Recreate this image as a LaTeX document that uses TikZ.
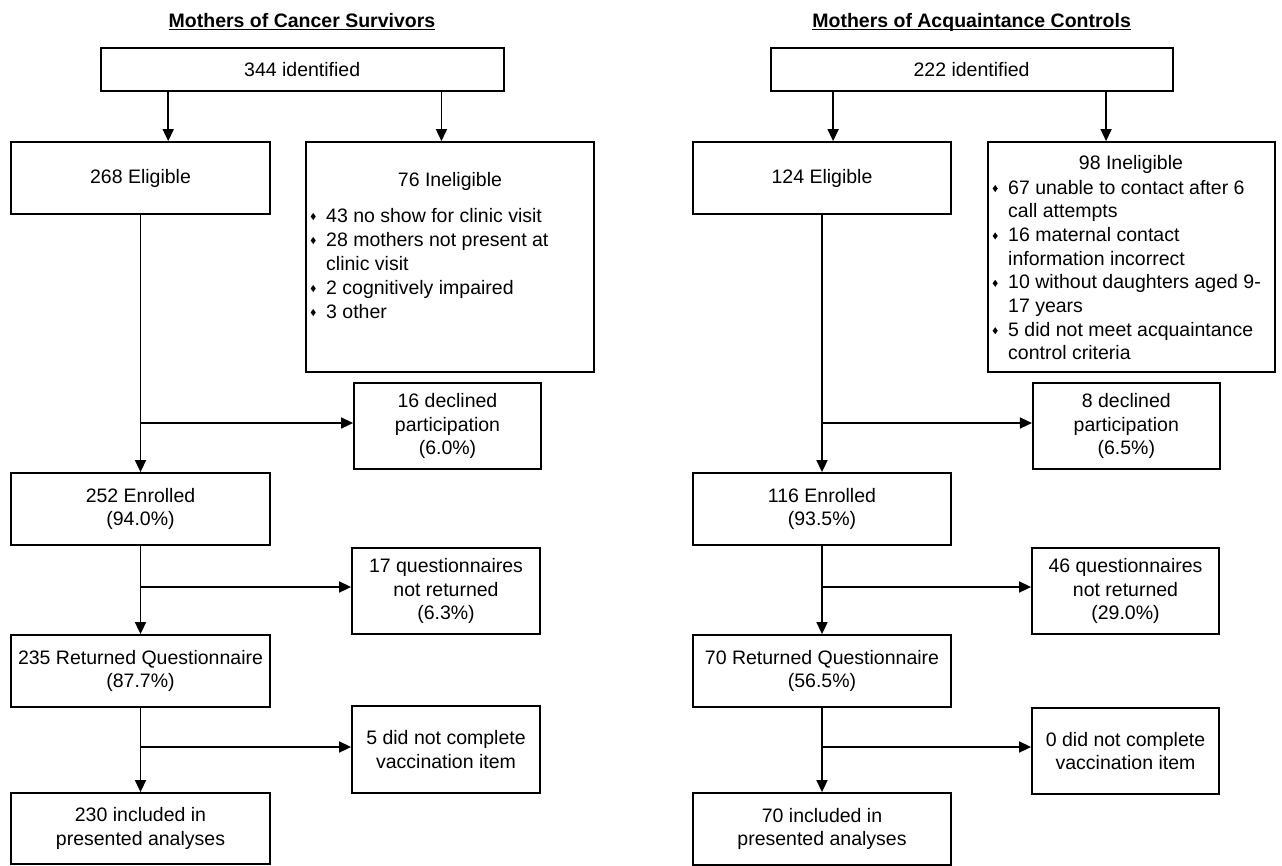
\documentclass[tikz,border=0pt]{standalone}
\usepackage{graphicx}
\usepackage{fontspec}
\setmainfont{Liberation Sans}
\usetikzlibrary{arrows.meta,calc}
\newcommand\fs{\fontsize{19.5}{23.5}\selectfont}
\newcommand\dm{\makebox[14pt]{\raisebox{2pt}{\scalebox{0.8}[1.1]{\rotatebox{45}{\rule{4.5pt}{4.5pt}}}}}}
\begin{document}
\begin{tikzpicture}[x=1pt,y=-1pt,
  box/.style={draw, line width=1.8pt, inner sep=0pt, align=center, font=\fs},
  wbox/.style={box, minimum width=259pt, minimum height=72pt},
  sbox/.style={box, minimum width=187pt, minimum height=86pt},
  ttl/.style={font=\fs\bfseries, inner sep=0pt, anchor=base},
  hdr/.style={font=\fs, inner sep=0pt, anchor=base},
  lst/.style={inner sep=0pt, anchor=base west},
  arr/.style={line width=1.6pt, -{Triangle[length=12pt,width=11pt]}},
  uline/.style={line width=1.4pt}]
\useasboundingbox (0,0) rectangle (1282,865);

% ---------------- Left panel ----------------
\node[ttl] (t1) at (302,27) {Mothers of Cancer Survivors};
\draw[uline] ([yshift=-2.5pt]t1.base west) -- ([yshift=-2.5pt]t1.base east);

\node[box, minimum width=403pt, minimum height=43pt] (id1) at (302.2,69.5) {344 identified};
\node[wbox] (el1) at (140.5,178) {268 Eligible};
\node[box, minimum width=288pt, minimum height=230pt] (in1) at (450,257) {};
\node[hdr] (in1h) at (450,186) {76 Ineligible};
\node[lst] (in1l) at (306,222) {\fontsize{19.5}{24}\selectfont
\begin{tabular}[t]{@{}l@{\hspace{6pt}}l@{}}
\dm & 43 no show for clinic visit\\
\dm & 28 mothers not present at\\
    & clinic visit\\
\dm & 2 cognitively impaired\\
\dm & 3 other
\end{tabular}};
\node[sbox] (de1) at (447.5,426) {16 declined\\participation\\(6.0\%)};
\node[wbox] (en1) at (140.5,509) {252 Enrolled\\(94.0\%)};
\node[sbox, minimum width=188pt] (qn1) at (446,591) {17 questionnaires\\not returned\\(6.3\%)};
\node[wbox] (rt1) at (140.5,671) {235 Returned Questionnaire\\(87.7\%)};
\node[sbox, minimum width=188pt, minimum height=87pt] (nc1) at (446,749.5) {5 did not complete\\vaccination item};
\node[wbox, minimum height=71pt] (ic1) at (140.5,828.5) {230 included in\\presented analyses};

\coordinate (a1) at ($(id1.south west)!0.169!(id1.south east)$);
\coordinate (b1) at ($(id1.south west)!0.844!(id1.south east)$);
\draw[arr] (a1) -- (a1 |- el1.north);
\draw[arr] (b1) -- (b1 |- in1.north);
\draw[arr] (el1.south) -- (en1.north);
\draw[arr] (en1.south) -- (rt1.north);
\draw[arr] (rt1.south) -- (ic1.north);
\coordinate (d1) at ([yshift=3pt]de1.west);
\coordinate (q1) at ([yshift=4pt]qn1.west);
\coordinate (n1) at ([yshift=2.5pt]nc1.west);
\draw[arr] (d1 -| el1.south) -- (d1);
\draw[arr] (q1 -| en1.south) -- (q1);
\draw[arr] (n1 -| rt1.south) -- (n1);

% ---------------- Right panel ----------------
\node[ttl] (t2) at (971.6,27) {Mothers of Acquaintance Controls};
\draw[uline] ([yshift=-2.5pt]t2.base west) -- ([yshift=-2.5pt]t2.base east);

\node[box, minimum width=402pt, minimum height=43pt] (id2) at (971.6,69.5) {222 identified};
\node[wbox, minimum width=258pt] (el2) at (822,178) {124 Eligible};
\node[box, minimum width=287pt, minimum height=230pt] (in2) at (1131.2,257) {};
\node[hdr] (in2h) at (1131,169) {98 Ineligible};
\node[lst] (in2l) at (988,194) {\fontsize{19.5}{23.7}\selectfont
\begin{tabular}[t]{@{}l@{\hspace{6pt}}l@{}}
\dm & 67 unable to contact after 6\\
    & call attempts\\
\dm & 16 maternal contact\\
    & information incorrect\\
\dm & 10 without daughters aged 9-\\
    & 17 years\\
\dm & 5 did not meet acquaintance\\
    & control criteria
\end{tabular}};
\node[sbox] (de2) at (1126.3,426) {8 declined\\participation\\(6.5\%)};
\node[wbox, minimum width=258pt] (en2) at (822,509) {116 Enrolled\\(93.5\%)};
\node[sbox] (qn2) at (1125.5,591) {46 questionnaires\\not returned\\(29.0\%)};
\node[wbox, minimum width=258pt] (rt2) at (822,671) {70 Returned Questionnaire\\(56.5\%)};
\node[sbox] (nc2) at (1125.5,751) {0 did not complete\\vaccination item};
\node[wbox, minimum width=258pt] (ic2) at (822,829) {70 included in\\presented analyses};

\coordinate (a2) at ($(id2.south west)!0.157!(id2.south east)$);
\coordinate (b2) at ($(id2.south west)!0.833!(id2.south east)$);
\draw[arr] (a2) -- (a2 |- el2.north);
\draw[arr] (b2) -- (b2 |- in2.north);
\draw[arr] (el2.south) -- (en2.north);
\draw[arr] (en2.south) -- (rt2.north);
\draw[arr] (rt2.south) -- (ic2.north);
\coordinate (d2) at ([yshift=3pt]de2.west);
\coordinate (q2) at ([yshift=4pt]qn2.west);
\coordinate (n2) at ([yshift=4pt]nc2.west);
\draw[arr] (d2 -| el2.south) -- (d2);
\draw[arr] (q2 -| en2.south) -- (q2);
\draw[arr] (n2 -| rt2.south) -- (n2);
\end{tikzpicture}
\end{document}
